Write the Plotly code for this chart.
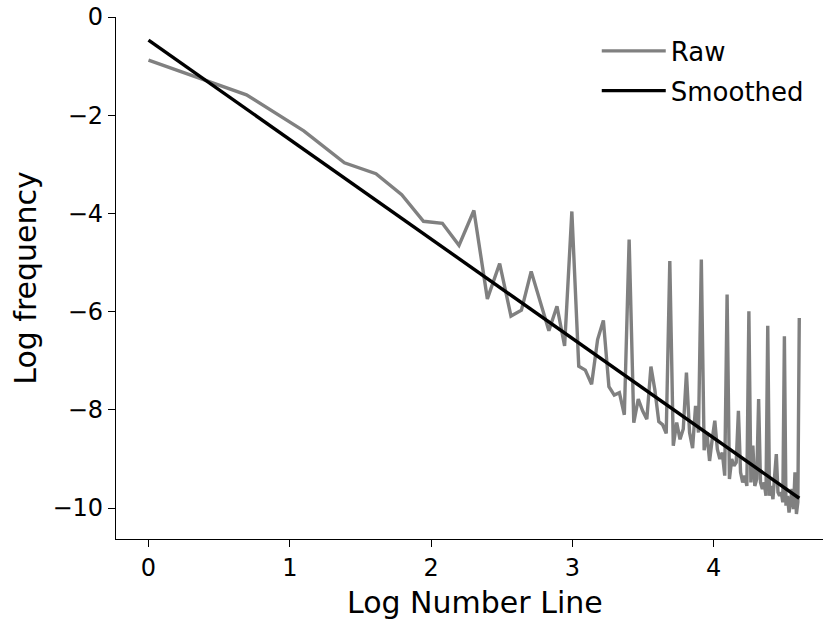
import numpy as np
import plotly.graph_objects as go

# Numbers 1..100 on the log number line
numbers = list(range(1, 101))

# Raw log frequency for each number
raw_log_freq = [
    -0.88, -1.585, -2.32, -2.97, -3.19, -3.62, -4.16, -4.20, -4.65, -3.94,
    -5.74, -5.02, -6.09, -5.97, -5.18, -5.80, -6.39, -5.89, -6.70, -3.96,
    -7.11, -7.19, -7.48, -6.57, -6.18, -7.53, -7.70, -7.65, -8.10, -4.53,
    -8.26, -7.78, -8.02, -8.19, -7.12, -7.60, -8.24, -8.30, -8.48, -4.97,
    -8.73, -8.26, -8.60, -8.39, -7.24, -8.46, -8.78, -7.92, -8.46, -4.94,
    -8.82, -8.46, -9.04, -8.60, -8.22, -8.80, -9.00, -8.87, -9.34, -5.65,
    -9.41, -9.00, -9.14, -9.07, -8.02, -9.27, -9.48, -9.34, -9.55, -5.99,
    -9.48, -8.73, -9.55, -9.41, -7.78, -9.48, -9.61, -9.48, -9.75, -6.29,
    -9.75, -9.55, -9.82, -9.34, -8.90, -9.68, -9.75, -9.68, -9.88, -6.50,
    -9.95, -9.75, -10.09, -9.88, -9.61, -10.02, -9.27, -10.12, -9.88, -6.13,
]

# Smoothed (straight fit) endpoints: numbers 1 and 100
smooth_numbers = [1, 100]
smooth_log_freq = [-0.47, -9.80]

x_raw = np.log(numbers)
x_smooth = np.log(smooth_numbers)

fig = go.Figure()
fig.add_trace(go.Scatter(
    x=x_raw, y=raw_log_freq, mode="lines", name="Raw",
    line=dict(color="#808080", width=3.4), legendgroup="a",
))
fig.add_trace(go.Scatter(
    x=x_smooth, y=smooth_log_freq, mode="lines", name="Smoothed",
    line=dict(color="#000000", width=3.4), legendgroup="b",
))

font_family = "DejaVu Sans"
fig.update_layout(
    width=823, height=619,
    margin=dict(l=116, r=0, t=17, b=80),
    paper_bgcolor="white", plot_bgcolor="white",
    font=dict(family=font_family, color="black", size=24),
    legend=dict(
        x=0.68, y=0.98, xanchor="left", yanchor="top",
        font=dict(size=26, family=font_family),
        itemwidth=64, tracegroupgap=3, traceorder="grouped",
        bgcolor="rgba(0,0,0,0)",
    ),
    showlegend=True,
    annotations=[dict(
        text="Log Number Line", xref="paper", yref="paper",
        x=0.508, y=0, xanchor="center", yanchor="top", yshift=-44,
        showarrow=False, font=dict(size=30, family=font_family, color="black"),
    )],
)
fig.update_xaxes(
    range=[-0.23, 4.773], showgrid=False, zeroline=False,
    showline=True, linecolor="black", linewidth=1.3,
    ticks="outside", ticklen=7, tickwidth=1.3, tickcolor="black",
    tickvals=[0, 1, 2, 3, 4], ticktext=["0", "1", "2", "3", "4"],
    tickfont=dict(size=24),
)
fig.update_yaxes(
    range=[-10.63, 0], showgrid=False, zeroline=False,
    showline=True, linecolor="black", linewidth=1.3,
    ticks="outside", ticklen=7, tickwidth=1.3, tickcolor="black",
    tickvals=[0, -2, -4, -6, -8, -10],
    ticktext=["0", "\u22122", "\u22124", "\u22126", "\u22128", "\u221210"],
    tickfont=dict(size=24),
    title=dict(text="Log frequency", font=dict(size=30), standoff=6),
)

fig.write_html("out.html")
